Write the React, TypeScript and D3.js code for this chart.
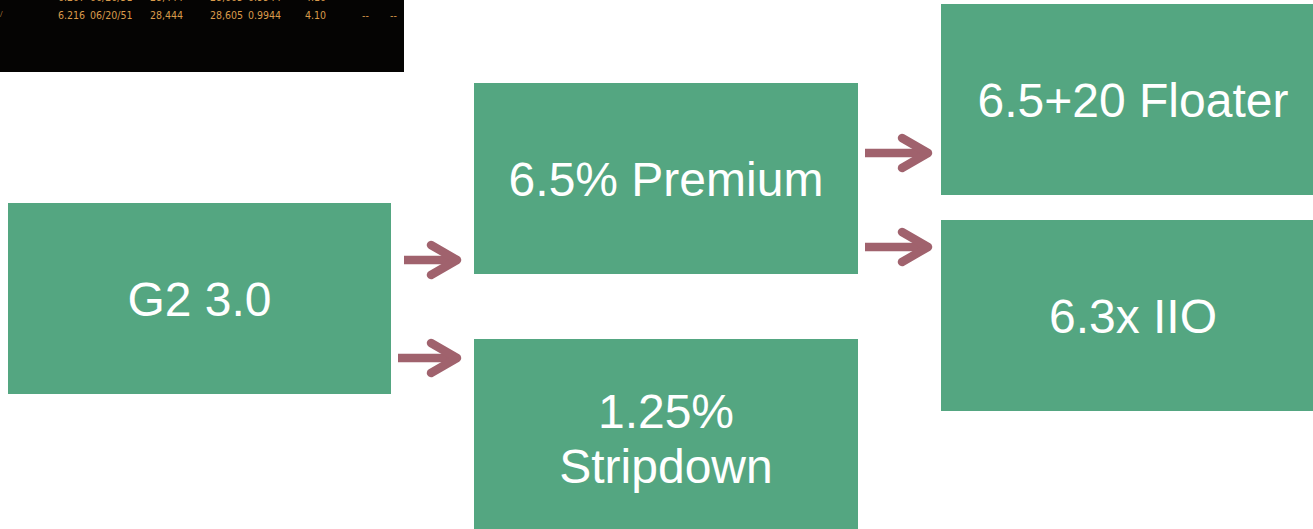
import { useEffect, useRef } from 'react'
import * as d3 from 'd3'

// deal structure: collateral -> first-level classes -> re-remic classes
const nodeLabels = ['G2 3.0', '6.5% Premium', '1.25%|Stripdown', '6.5+20 Floater', '6.3x IIO']
const nodeColumns = [0, 1, 1, 2, 2]
const links = [
  { source: 0, target: 1 },
  { source: 0, target: 2 },
  { source: 1, target: 3 },
  { source: 1, target: 4 },
]

// screen grab of the pricing run (top-left corner of slide)
const tickerColumns = ['cpn', 'date', 'px1', 'px2', 'factor', 'yld', 'x1', 'x2']
const tickerRows = [
  ['6.207', '06/20/51', '28,444', '28,605', '0.9944', '4.10', '', ''],
  ['6.216', '06/20/51', '28,444', '28,605', '0.9944', '4.10', '--', '--'],
]

const W = 1313
const H = 529
const GREEN = '#54a681'
const ARROW = '#a0626d'

export default function App() {
  const svgRef = useRef<SVGSVGElement | null>(null)

  useEffect(() => {
    if (!svgRef.current) return
    const svg = d3.select(svgRef.current)
    svg.selectAll('*').remove()

    // black screenshot panel
    const tick = svg.append('g')
    tick.append('rect')
      .attr('x', 0).attr('y', 0)
      .attr('width', 404).attr('height', 72)
      .attr('fill', '#050403')
    const tx = d3.scaleOrdinal<string, number>()
      .domain(tickerColumns)
      .range([58, 90, 150, 210, 248, 305, 362, 390])
    const ty = d3.scaleLinear().domain([0, 1]).range([1, 19])
    tickerRows.forEach((row, r) => {
      tick.selectAll(null)
        .data(row)
        .join('text')
        .attr('x', (_d, i) => tx(tickerColumns[i]))
        .attr('y', ty(r))
        .attr('fill', '#d99a4a')
        .attr('font-family', "'Liberation Sans Narrow', 'DejaVu Sans Condensed', sans-serif")
        .attr('font-size', 10.5)
        .text(d => d)
    })
    tick.append('text')
      .attr('x', 0).attr('y', ty(1) - 2)
      .attr('fill', '#d99a4a').attr('font-size', 9)
      .text('/')

    // layout for the boxes (the right column runs past the slide edge)
    const colX = d3.scaleOrdinal<number, number>().domain([0, 1, 2]).range([8, 474, 941])
    const colW = d3.scaleOrdinal<number, number>().domain([0, 1, 2]).range([383, 384, 384])
    const nodeTop = [203, 83, 339, 4, 220]
    const nodeH = [191, 191, 191, 191, 191]

    const nodes = nodeLabels.map((label, i) => ({
      label,
      x: colX(nodeColumns[i]),
      y: nodeTop[i],
      w: colW(nodeColumns[i]),
      h: nodeH[i],
    }))

    svg.selectAll('rect.node')
      .data(nodes)
      .join('rect')
      .attr('class', 'node')
      .attr('x', d => d.x).attr('y', d => d.y)
      .attr('width', d => d.w).attr('height', d => d.h)
      .attr('fill', GREEN)

    const fs = 48
    const lineGap = 55
    const textCenter = [298.5, 178.5, 438, 99.5, 315.5]
    nodes.forEach((n, i) => {
      const lines = n.label.split('|')
      const cy = textCenter[i]
      lines.forEach((ln, j) => {
        const off = (j - (lines.length - 1) / 2) * lineGap
        svg.append('text')
          .attr('x', n.x + n.w / 2)
          .attr('y', cy + off + fs * 0.358)
          .attr('text-anchor', 'middle')
          .attr('fill', '#ffffff')
          .attr('font-family', "'Liberation Sans', Arial, sans-serif")
          .attr('font-size', fs)
          .text(ln)
      })
    })

    // arrows between columns
    const arrowY = [260, 358, 153, 247]
    const arrowStart = [404, 398, 865, 865]
    const arrowTip = [462, 462, 933, 933]
    const arrows = links.map((l, i) => ({ ...l, y: arrowY[i], x0: arrowStart[i], x1: arrowTip[i] }))

    const g = svg.append('g').attr('stroke', ARROW).attr('fill', 'none').attr('stroke-width', 8.5)
    g.selectAll('line')
      .data(arrows)
      .join('line')
      .attr('x1', d => d.x0).attr('x2', d => d.x1 - 6)
      .attr('y1', d => d.y).attr('y2', d => d.y)
    const head = d3.line<[number, number]>()
    g.selectAll('path')
      .data(arrows)
      .join('path')
      .attr('stroke-linecap', 'round')
      .attr('stroke-linejoin', 'round')
      .attr('d', d => head([
        [d.x1 - 31, d.y - 15],
        [d.x1 - 5, d.y],
        [d.x1 - 31, d.y + 15],
      ]))
  }, [])

  return (
    <svg
      ref={svgRef}
      width={W}
      height={H}
      style={{ position: 'absolute', left: 0, top: 0, background: '#ffffff', display: 'block' }}
    />
  )
}
